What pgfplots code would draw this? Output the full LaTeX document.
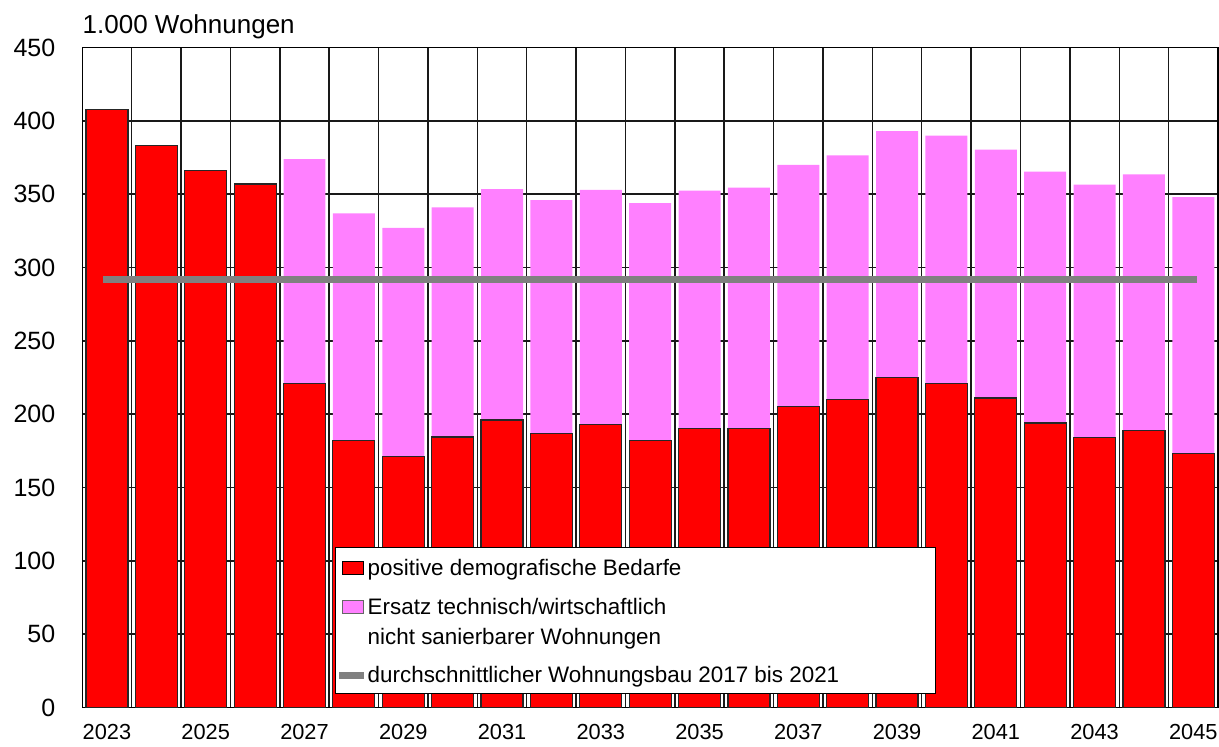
\documentclass[border=0pt]{standalone}
\usepackage{fontspec}
\setmainfont{Liberation Sans}
\usepackage{pgfplots}
\usepackage{pgfplotstable}
\pgfplotsset{compat=1.18}
\definecolor{myred}{HTML}{FF0000}
\definecolor{mypink}{HTML}{FF80FF}
\definecolor{mygray}{HTML}{808080}

\pgfplotstableread{
x red total
0 408 408
1 383 383
2 366 366
3 357 357
4 221 374
5 182 337
6 171 327
7 184.5 341
8 196 353.5
9 187 346
10 193 353
11 182 344
12 190 352.5
13 190.5 354.5
14 205 370
15 210 376.5
16 225 393
17 221 390
18 211 380.5
19 194 365.5
20 184 356.5
21 189 363.5
22 173 348
}\datatable

\begin{document}
\begin{tikzpicture}
\begin{axis}[
  name=main,
  at={(0,0)}, anchor=south west,
  scale only axis, width=567.9pt, height=330pt,
  ybar, bar width=21pt, bar shift=0pt,
  xmin=-0.5, xmax=22.5, ymin=0, ymax=450,
  xtick={0,2,4,6,8,10,12,14,16,18,20,22},
  xticklabels={2023,2025,2027,2029,2031,2033,2035,2037,2039,2041,2043,2045},
  minor xtick={0.5,1.5,...,21.5},
  ytick={0,50,...,450},
  xminorgrids, ymajorgrids,
  grid style={black!90, line width=0.75pt},
  minor grid style={black!90, line width=0.75pt},
  major tick length=0pt, minor tick length=0pt,
  axis line style={black, line width=0.75pt},
  /pgf/number format/assume math mode=true,
  /pgf/number format/1000 sep={},
  yticklabel style={font=\fontsize{12.5}{14}\selectfont, xshift=-10pt},
  xticklabel style={font=\fontsize{10.9}{12}\selectfont, yshift=-7pt, inner sep=1pt},
  legend style={
    at={(0.2225,0.2435)}, anchor=north west,
    draw=black, line width=0.75pt, fill=white,
    inner sep=0pt, inner xsep=0pt, inner ysep=0pt,
    row sep=0pt, column sep=0pt,
    font=\fontsize{11.2}{13}\selectfont,
    nodes={inner sep=0pt, text depth=, anchor=base west},
    cells={anchor=base west},
  },
]
\addplot[forget plot, fill=mypink, draw=none] table[x=x, y=total] {\datatable};
\addplot[forget plot, fill=myred, draw=black!85, line width=0.6pt] table[x=x, y=red] {\datatable};
\addplot[forget plot, sharp plot, no markers, mygray, line width=3.5pt] coordinates {(-0.08,292) (22.07,292)};

\addlegendimage{legend image code/.code={\path[draw=none,fill=none] (0pt,0pt) (14pt,0pt); \draw[fill=myred, draw=black, line width=0.5pt] (2pt,0.5pt) rectangle (12.5pt,7pt);}}
\addlegendentry{\rule[-10pt]{0pt}{24pt}positive demografische Bedarfe}
\addlegendimage{legend image code/.code={\path[draw=none,fill=none] (0pt,0pt) (14pt,0pt); \draw[fill=mypink, draw=black!60, line width=0.5pt] (2pt,0.5pt) rectangle (12.5pt,7pt);}}
\addlegendentry{\rule[-4pt]{0pt}{13.5pt}Ersatz technisch/wirtschaftlich}
\addlegendimage{legend image code/.code={\path[draw=none,fill=none] (0pt,0pt) (14pt,0pt);}}
\addlegendentry{\rule[-4pt]{0pt}{15pt}nicht sanierbarer Wohnungen}
\addlegendimage{legend image code/.code={\path[draw=none,fill=none] (0pt,0pt) (14pt,0pt); \draw[mygray, line width=3.5pt] (0.5pt,3.5pt) -- (13pt,3.5pt);}}
\addlegendentry{\rule[-5.5pt]{0pt}{20.5pt}\makebox[284pt][l]{durchschnittlicher Wohnungsbau 2017 bis 2021}}
\end{axis}
\node[anchor=base west, inner sep=0pt, font=\fontsize{13}{15}\selectfont] at ([yshift=7pt]main.north west) {1.000 Wohnungen};
\pgfresetboundingbox
\path (-41.15pt,-19.65pt) rectangle (568.4pt,353.8pt);
\end{tikzpicture}
\end{document}
